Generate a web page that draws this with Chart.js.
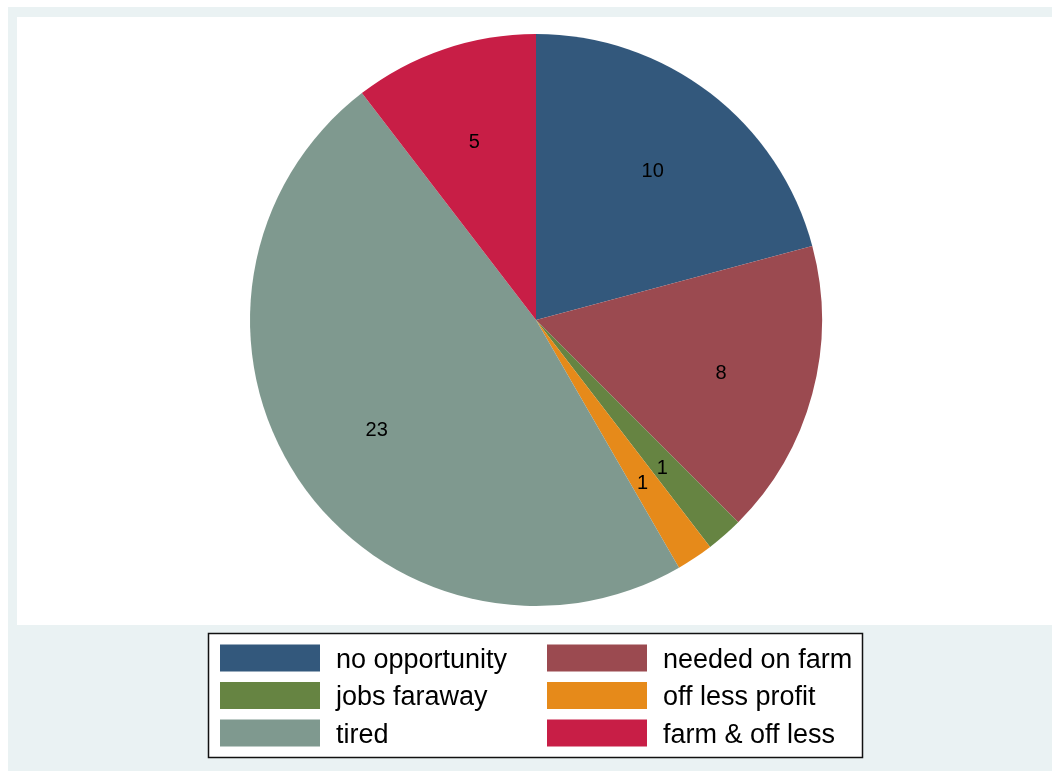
<!DOCTYPE html>
<html>
<head>
<meta charset="utf-8">
<script src="https://cdn.jsdelivr.net/npm/chart.js@4/dist/chart.umd.min.js"></script>
<style>
  html, body { margin: 0; padding: 0; background: #fff; }
  #wrap { width: 1052px; height: 771px; position: relative; }
</style>
</head>
<body>
<div id="wrap"><canvas id="pie"></canvas></div>
<script>
const categories = ["no opportunity", "needed on farm", "jobs faraway", "off less profit", "tired", "farm & off less"];
const counts = [10, 8, 1, 1, 23, 5];
const colors = ["#33587C", "#9B4A50", "#668442", "#E68A1A", "#7F998F", "#C81E46"];

// frame: light outer band + white plot region
const frame = {
    id: "frame",
    beforeDraw(chart) {
        const ctx = chart.ctx;
        ctx.save();
        ctx.fillStyle = "#fff";
        ctx.fillRect(0, 0, chart.width, chart.height);
        ctx.fillStyle = "#EAF2F3";
        ctx.fillRect(8, 7, chart.width - 8, chart.height - 7);
        ctx.fillStyle = "#fff";
        ctx.fillRect(17, 17, chart.width - 17, 608);
        ctx.restore();
    }
};

// value labels inside slices
const sliceLabels = {
    id: "sliceLabels",
    afterDatasetsDraw(chart) {
        const ctx = chart.ctx;
        const meta = chart.getDatasetMeta(0);
        ctx.save();
        ctx.font = "20px 'Liberation Sans', Arial, sans-serif";
        ctx.fillStyle = "#000";
        ctx.textAlign = "center";
        ctx.textBaseline = "middle";
        meta.data.forEach((arc, i) => {
            const p = arc.getProps(["x", "y", "startAngle", "endAngle", "outerRadius"], true);
            const mid = (p.startAngle + p.endAngle) / 2;
            const r = p.outerRadius * 0.67;
            ctx.fillText(String(chart.data.datasets[0].data[i]), p.x + Math.cos(mid) * r, p.y + Math.sin(mid) * r + 4);
        });
        ctx.restore();
    }
};

// two-column boxed legend at the bottom
const boxLegend = {
    id: "boxLegend",
    afterDraw(chart) {
        const ctx = chart.ctx;
        const ds = chart.data.datasets[0];
        ctx.save();
        ctx.fillStyle = "#fff";
        ctx.fillRect(208, 633, 654, 124);
        ctx.strokeStyle = "#111";
        ctx.lineWidth = 1.5;
        ctx.strokeRect(208.5, 633.5, 654, 124);
        ctx.font = "27px 'Liberation Sans', Arial, sans-serif";
        ctx.textBaseline = "middle";
        ctx.textAlign = "left";
        chart.data.labels.forEach((lab, i) => {
            const col = i % 2, row = Math.floor(i / 2);
            const x = col === 0 ? 220 : 547;
            const cy = 658 + row * 37.5;
            ctx.fillStyle = ds.backgroundColor[i];
            ctx.fillRect(x, cy - 13.5, 100, 27);
            ctx.fillStyle = "#000";
            ctx.fillText(lab, x + 116, cy + 2.5);
        });
        ctx.restore();
    }
};

new Chart(document.getElementById("pie"), {
    type: "pie",
    data: {
        labels: categories,
        datasets: [{
            data: counts,
            backgroundColor: colors,
            borderWidth: 0
        }]
    },
    options: {
        responsive: true,
        maintainAspectRatio: false,
        animation: false,
        layout: { padding: { left: 250, right: 230, top: 34, bottom: 165 } },
        plugins: {
            legend: { display: false },
            tooltip: { enabled: false }
        }
    },
    plugins: [frame, sliceLabels, boxLegend]
});
</script>
</body>
</html>
